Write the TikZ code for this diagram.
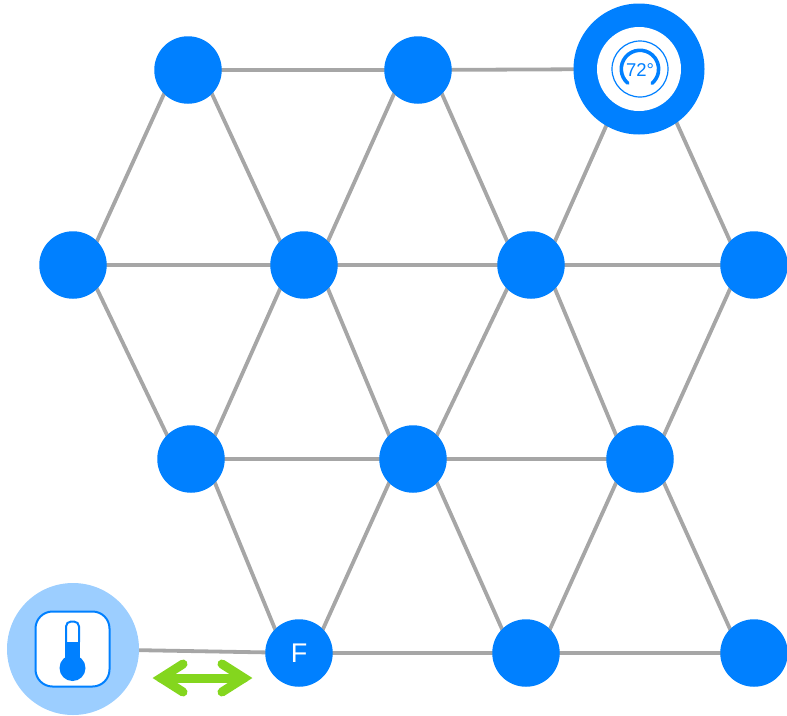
\documentclass[tikz,border=0pt]{standalone}
\usepackage{fontspec}
\usetikzlibrary{backgrounds}
\setmainfont{Liberation Sans}
\definecolor{hubblue}{HTML}{0080FF}
\definecolor{edgegray}{HTML}{A6A6A6}
\definecolor{lightblue}{HTML}{9CCEFF}
\definecolor{arrowgreen}{HTML}{84D61E}
\tikzset{
  hub/.style={circle,fill=hubblue,draw=none,inner sep=0pt,minimum size=67.5pt,text=white,font=\fontsize{27}{27}\selectfont},
  link/.style={draw=edgegray,line width=3.8pt,shorten >=-3pt,shorten <=-3pt},
  greenline/.style={draw=arrowgreen,line width=9pt,line cap=round,line join=miter},
  iconline/.style={draw=hubblue,line width=2pt},
}
\begin{document}
\begin{tikzpicture}[x=1pt,y=-1pt]
\useasboundingbox (0,0) rectangle (787,715);
\node[hub] (a1) at (188,70) {};
\node[hub] (a2) at (418,70) {};
\node[circle,fill=hubblue,inner sep=0pt,minimum size=131pt] (a3) at (639,69) {};
\node[hub] (b1) at (73,265) {};
\node[hub] (b2) at (304,265) {};
\node[hub] (b3) at (531,265) {};
\node[hub] (b4) at (754,265) {};
\node[hub] (c1) at (191,459) {};
\node[hub] (c2) at (413,459) {};
\node[hub] (c3) at (640,459) {};
\node[hub] (d1) at (299,653) {F};
\node[hub] (d2) at (526,653) {};
\node[hub] (d3) at (754,653) {};
\node[circle,fill=lightblue,inner sep=0pt,minimum size=132pt] (th) at (73,649) {};
% connectors
\begin{scope}[on background layer]
\foreach \p/\q in {a1/a2,a2/a3,b1/b2,b2/b3,b3/b4,c1/c2,c2/c3,d1/d2,d2/d3,th/d1}
  \draw[link] (\p) -- (\q);
% down-left edges
\foreach \p/\q in {a1/b1,a2/b2,b2/c1,b3/c2,b4/c3,c2/d1,c3/d2}
  \draw[link] (\p.-135) -- (\q.45);
% down-right edges
\foreach \p/\q in {a1/b2,a2/b3,b1/c1,b2/c2,b3/c3,c1/d1,c2/d2,c3/d3}
  \draw[link] (\p.-45) -- (\q.135);
\draw[link] (a3.-120) -- (b3.45);
\draw[link] (a3.-55) -- (b4.135);
\end{scope}
% thermostat icon
\node[circle,fill=white,inner sep=0pt,minimum size=84pt] (tw) at (639,69) {};
\node[circle,draw=hubblue,line width=1.2pt,inner sep=0pt,minimum size=56pt] (tr) at (640,69) {};
\draw[hubblue,line width=3.6pt,line cap=round] (627.8,83.2) arc[start angle=130.6,delta angle=279,radius=18.7];
\node[text=hubblue,inner sep=0pt,font=\fontsize{18.5}{18.5}\selectfont] (tt) at (640,70) {72°};
% thermometer icon
\node[draw=hubblue,fill=white,line width=2pt,rounded corners=17pt,inner sep=0pt,minimum width=74pt,minimum height=75pt] (ti) at (72.5,649) {};
\draw[iconline,fill=white,rounded corners=5pt] (66,642) -- (66,621.5) -- (79,621.5) -- (79,642);
\fill[hubblue] (65,642) rectangle (80,660);
\fill[hubblue] (72.5,668) circle[radius=13];
% green arrow
\coordinate (gl) at (161,678);
\coordinate (gr) at (244,678);
\coordinate (gl1) at (183,664);
\coordinate (gl2) at (183,692);
\coordinate (gr1) at (222,664);
\coordinate (gr2) at (222,692);
\draw[greenline] (gl) -- (gr);
\draw[greenline] (gl1) -- (gl) -- (gl2);
\draw[greenline] (gr1) -- (gr) -- (gr2);
\end{tikzpicture}
\end{document}
